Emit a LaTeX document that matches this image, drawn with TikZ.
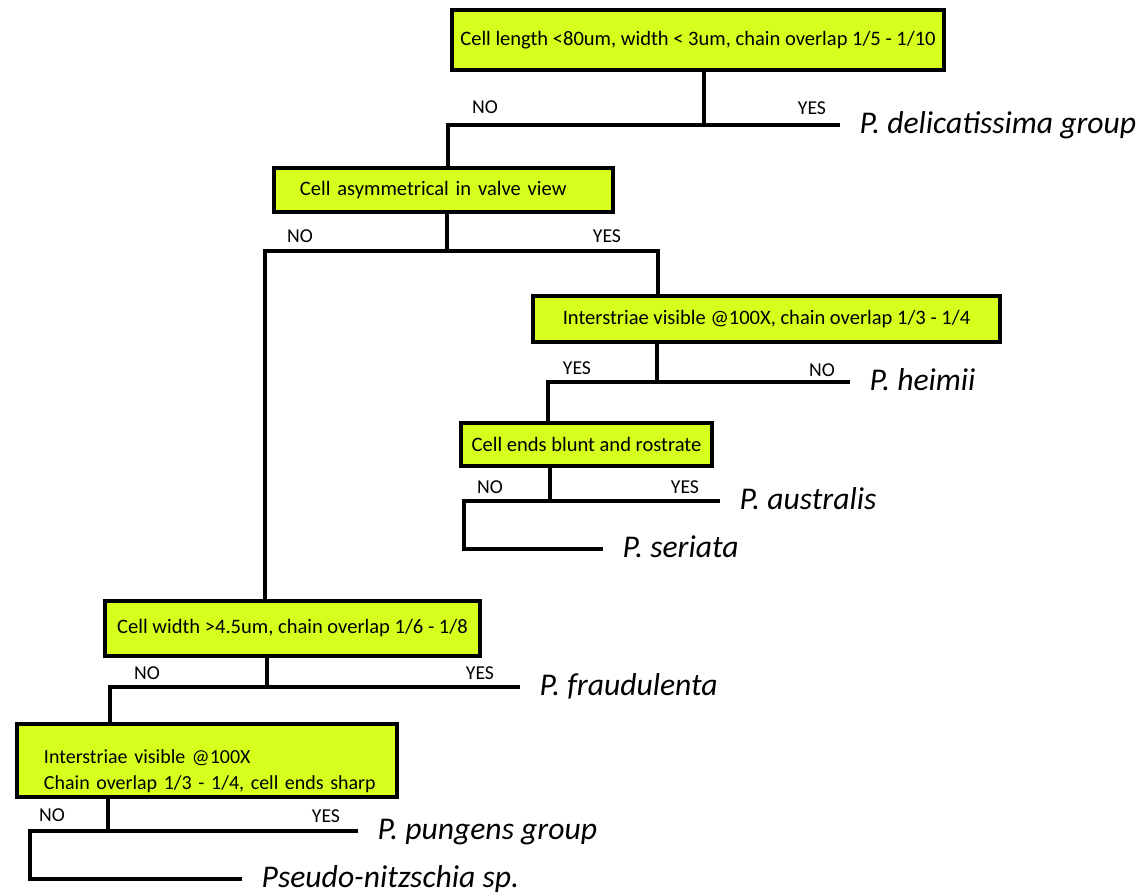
\documentclass[tikz,border=0pt]{standalone}
\usepackage{fontspec}
\setmainfont{Carlito}
\definecolor{keyfill}{RGB}{214,255,30}
\begin{document}
\begin{tikzpicture}[x=0.025cm, y=-0.025cm, line width=2.4pt, line join=miter,
	key/.style={draw, fill=keyfill, line width=2.4pt, inner sep=0pt, font=\fontsize{14.6}{17}\selectfont},
	ans/.style={font=\fontsize{14}{16}\selectfont},
	taxon/.style={anchor=west, inner xsep=0.45cm, inner ysep=0pt, text height=15.75pt, text depth=3.4pt, font=\fontsize{22.5}{26}\selectfont\itshape}]
	\useasboundingbox (0,0) rectangle (1140,896);
	% decision boxes
	\node[key, minimum width=12.3cm, minimum height=1.5cm] (q1) at (698,40) {Cell length <80um, width < 3um, chain overlap 1/5 - 1/10};
	\node[key, minimum height=1.1cm, inner xsep=0.65cm, text width=7.175cm, align=left] (q2) at (443.5,190) {Cell asymmetrical in valve view};
	\node[key, minimum width=11.675cm, minimum height=1.15cm] (q3) at (766.5,319) {Interstriae visible @100X, chain overlap 1/3 - 1/4};
	\node[key, minimum width=6.275cm, minimum height=1.075cm] (q4) at (586.5,444.5) {Cell ends blunt and rostrate};
	\node[key, minimum width=9.375cm, minimum height=1.375cm] (q5) at (292.5,628.5) {Cell width >4.5um, chain overlap 1/6 - 1/8};
	\node[key, minimum height=1.825cm, inner xsep=0.5cm, text width=8.5cm, align=left, font=\fontsize{14.2}{19}\selectfont] (q6) at (207,760.5) {\rule{0pt}{25pt}\hspace*{5pt}Interstriae visible @100X\\\hspace*{5pt}Chain overlap 1/3 - 1/4, cell ends sharp};
	% branch points
	\coordinate (s1) at (704,125);
	\coordinate (s2) at (447,251);
	\coordinate (s3) at (657,382);
	\coordinate (s4) at (550,501);
	\coordinate (s5) at (267,687);
	\coordinate (s6) at (108,831);
	\coordinate (no1) at (448,125);
	\coordinate (no2) at (265,251);
	\coordinate (yes2) at (658,251);
	\coordinate (yes3) at (548,382);
	\coordinate (no4) at (464,501);
	\coordinate (no5) at (110,687);
	\coordinate (no6) at (30,831);
	% end taxa
	\node[taxon] (t1) at (840,125) {P. delicatissima group};
	\node[taxon] (t2) at (850,382) {P. heimii};
	\node[taxon] (t3) at (720,501) {P. australis};
	\node[taxon] (t4) at (603,549) {P. seriata};
	\node[taxon] (t5) at (520,687) {P. fraudulenta};
	\node[taxon] (t6) at (358,831) {P. pungens group};
	\node[taxon] (t7) at (242,879) {Pseudo-nitzschia sp.};
	% answers
	\node[ans] (a1n) at (485,107) {NO};
	\node[ans] (a1y) at (812,108) {YES};
	\node[ans] (a2n) at (300,236) {NO};
	\node[ans] (a2y) at (607,236) {YES};
	\node[ans] (a3y) at (577,368) {YES};
	\node[ans] (a3n) at (822,370) {NO};
	\node[ans] (a4n) at (490,487) {NO};
	\node[ans] (a4y) at (685,487) {YES};
	\node[ans] (a5n) at (147,673) {NO};
	\node[ans] (a5y) at (480,673) {YES};
	\node[ans] (a6n) at (52,815) {NO};
	\node[ans] (a6y) at (326,816) {YES};
	% stems and branches
	\draw (s1 |- q1.south) -- (s1);
	\draw (q2.north -| no1) -- (no1) -- (t1.west);
	\draw (s2 |- q2.south) -- (s2);
	\draw (q5.north -| no2) -- (no2) -- (yes2) -- (q3.north -| yes2);
	\draw (s3 |- q3.south) -- (s3);
	\draw (q4.north -| yes3) -- (yes3) -- (t2.west);
	\draw (s4 |- q4.south) -- (s4);
	\draw (t4.west) -- (t4.west -| no4) -- (no4) -- (t3.west);
	\draw (s5 |- q5.south) -- (s5);
	\draw (q6.north -| no5) -- (no5) -- (t5.west);
	\draw (s6 |- q6.south) -- (s6);
	\draw (t7.west) -- (t7.west -| no6) -- (no6) -- (t6.west);
\end{tikzpicture}
\end{document}
